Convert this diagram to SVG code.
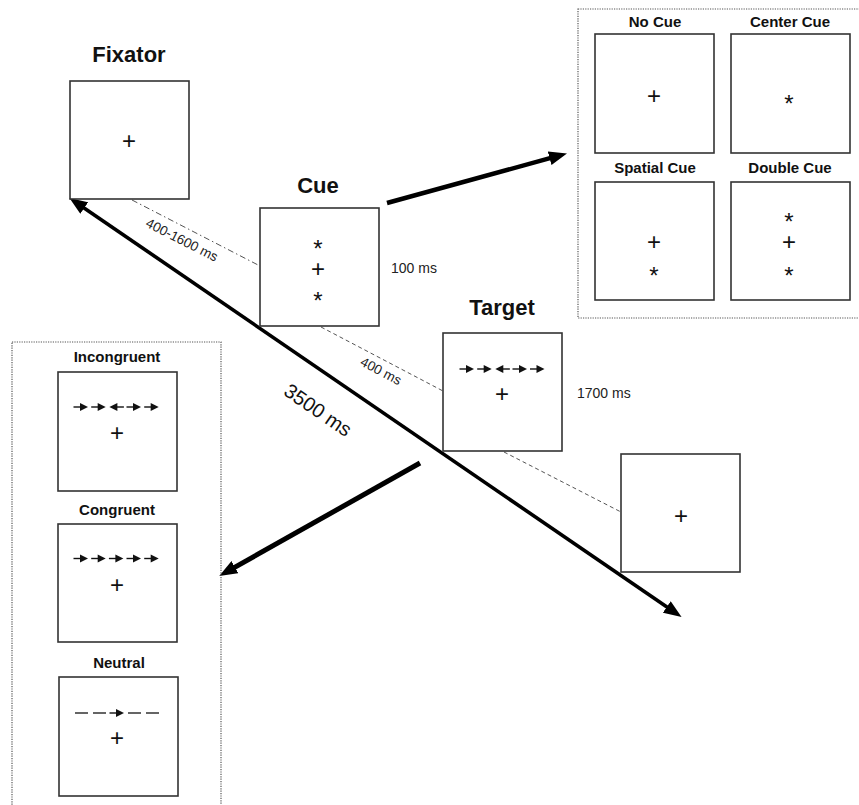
<svg xmlns="http://www.w3.org/2000/svg" xmlns:xlink="http://www.w3.org/1999/xlink" width="859" height="805" viewBox="0 0 859 805">
<style>
  .box { fill: #fff; stroke: #333; stroke-width: 1.6; }
  .panel { fill: none; stroke: #555; stroke-width: 1.2; stroke-dasharray: 1.2 1.2; }
  .title { font-family: "Liberation Sans", Arial, sans-serif; font-weight: bold; font-size: 22px; fill: #111; text-anchor: middle; }
  .sub { font-family: "Liberation Sans", Arial, sans-serif; font-weight: bold; font-size: 15px; fill: #111; text-anchor: middle; }
  .sym { font-family: "Liberation Sans", Arial, sans-serif; font-size: 24px; fill: #111; text-anchor: middle; }
  .ms { font-family: "Liberation Sans", Arial, sans-serif; font-size: 14px; fill: #222; }
  .msr { font-family: "Liberation Sans", Arial, sans-serif; font-size: 13.5px; fill: #222; text-anchor: middle; }
  .big { font-family: "Liberation Sans", Arial, sans-serif; font-size: 20px; fill: #111; text-anchor: middle; }
  .thick { stroke: #000; fill: none; }
  .dash { stroke: #555; stroke-width: 1; stroke-dasharray: 4 3; fill: none; }
  .dashdot { stroke: #555; stroke-width: 1; stroke-dasharray: 6 3 1.5 3; fill: none; }
  .nd { stroke: #111; stroke-width: 1.3; }
</style>
<defs>
  <marker id="head" markerUnits="userSpaceOnUse" markerWidth="18" markerHeight="14" viewBox="0 0 18 14" refX="6" refY="7" orient="auto-start-reverse">
    <path d="M0,0 L18,7 L0,14 z" fill="#000"/>
  </marker>
  <g id="ar">
    <line x1="-7.5" y1="0" x2="0" y2="0" stroke="#111" stroke-width="1.4"/>
    <polygon points="-1,-4 7,0 -1,4" fill="#111"/>
  </g>
  <g id="al">
    <use xlink:href="#ar" transform="scale(-1,1)"/>
  </g>
</defs>

<g id="connectors">
  <line class="thick" x1="79.3" y1="204.7" x2="671.7" y2="610.3" stroke-width="3.6" marker-start="url(#head)" marker-end="url(#head)"/>
  <line class="thick" x1="387" y1="203" x2="555.4" y2="156.7" stroke-width="4.5" marker-end="url(#head)"/>
  <line class="thick" x1="420" y1="463" x2="229.7" y2="570.1" stroke-width="5" marker-end="url(#head)"/>
  <line class="dashdot" x1="132" y1="200" x2="260" y2="266"/>
  <line class="dash" x1="321" y1="327" x2="443" y2="391"/>
  <line class="dash" x1="504" y1="452" x2="621" y2="512"/>
  <text class="msr" transform="translate(182,240) rotate(27)" y="4.5">400-1600 ms</text>
  <text class="msr" transform="translate(381,371) rotate(27.7)" y="4.5">400 ms</text>
  <text class="big" transform="translate(318,410) rotate(34.4)" y="7">3500 ms</text>
</g>

<g id="fixator">
  <text class="title" x="129" y="62">Fixator</text>
  <rect class="box" x="70" y="81" width="119" height="118"/>
  <text class="sym" x="129" y="149.4">+</text>
</g>

<g id="cue">
  <text class="title" x="318" y="193">Cue</text>
  <rect class="box" x="260" y="208" width="119" height="118"/>
  <text class="sym"><tspan x="318" y="256.7">*</tspan><tspan x="318" y="277.4">+</tspan><tspan x="318" y="308.7">*</tspan></text>
  <text class="ms" x="391" y="273">100 ms</text>
</g>

<g id="target">
  <text class="title" x="502" y="315">Target</text>
  <rect class="box" x="443" y="333" width="119" height="118"/>
  <use xlink:href="#ar" x="467" y="369"/>
  <use xlink:href="#ar" x="484.7" y="369"/>
  <use xlink:href="#al" transform="translate(502.3,369)"/>
  <use xlink:href="#ar" x="520" y="369"/>
  <use xlink:href="#ar" x="537.5" y="369"/>
  <text class="sym" x="502" y="402.4">+</text>
  <text class="ms" x="577" y="398">1700 ms</text>
</g>

<g id="blank">
  <rect class="box" x="621" y="454" width="119" height="118"/>
  <text class="sym" x="681" y="524.4">+</text>
</g>

<g id="cue-types">
  <rect class="panel" x="578" y="9" width="283" height="309"/>
  <g id="no-cue">
    <text class="sub" x="655" y="27">No Cue</text>
    <rect class="box" x="595" y="34" width="119" height="119"/>
    <text class="sym" x="654" y="104.4">+</text>
  </g>
  <g id="center-cue">
    <text class="sub" x="790" y="27">Center Cue</text>
    <rect class="box" x="731" y="34" width="119" height="119"/>
    <text class="sym" x="789" y="111.7">*</text>
  </g>
  <g id="spatial-cue">
    <text class="sub" x="655" y="173">Spatial Cue</text>
    <rect class="box" x="595" y="182" width="119" height="118"/>
    <text class="sym"><tspan x="654" y="250.4">+</tspan><tspan x="654" y="283.7">*</tspan></text>
  </g>
  <g id="double-cue">
    <text class="sub" x="790" y="173">Double Cue</text>
    <rect class="box" x="731" y="182" width="119" height="118"/>
    <text class="sym"><tspan x="789" y="229.7">*</tspan><tspan x="789" y="250.4">+</tspan><tspan x="789" y="283.7">*</tspan></text>
  </g>
</g>

<g id="target-types">
  <rect class="panel" x="12" y="342" width="209" height="470"/>
  <g id="incongruent">
    <text class="sub" x="117" y="362">Incongruent</text>
    <rect class="box" x="58" y="372" width="119" height="119"/>
    <use xlink:href="#ar" x="81" y="407"/>
    <use xlink:href="#ar" x="98.7" y="407"/>
    <use xlink:href="#al" transform="translate(116.4,407)"/>
    <use xlink:href="#ar" x="134" y="407"/>
    <use xlink:href="#ar" x="151.7" y="407"/>
    <text class="sym" x="117" y="441.4">+</text>
  </g>
  <g id="congruent">
    <text class="sub" x="117" y="515">Congruent</text>
    <rect class="box" x="58" y="524" width="119" height="118"/>
    <use xlink:href="#ar" x="81" y="558.5"/>
    <use xlink:href="#ar" x="98.7" y="558.5"/>
    <use xlink:href="#ar" x="116.4" y="558.5"/>
    <use xlink:href="#ar" x="134" y="558.5"/>
    <use xlink:href="#ar" x="151.7" y="558.5"/>
    <text class="sym" x="117" y="593.4">+</text>
  </g>
  <g id="neutral">
    <text class="sub" x="119" y="668">Neutral</text>
    <rect class="box" x="59" y="677" width="119" height="119"/>
    <line class="nd" x1="75" y1="713" x2="88" y2="713"/>
    <line class="nd" x1="93" y1="713" x2="106" y2="713"/>
    <use xlink:href="#ar" x="117" y="713"/>
    <line class="nd" x1="128" y1="713" x2="141" y2="713"/>
    <line class="nd" x1="146" y1="713" x2="159" y2="713"/>
    <text class="sym" x="117" y="746.4">+</text>
  </g>
</g>
</svg>
